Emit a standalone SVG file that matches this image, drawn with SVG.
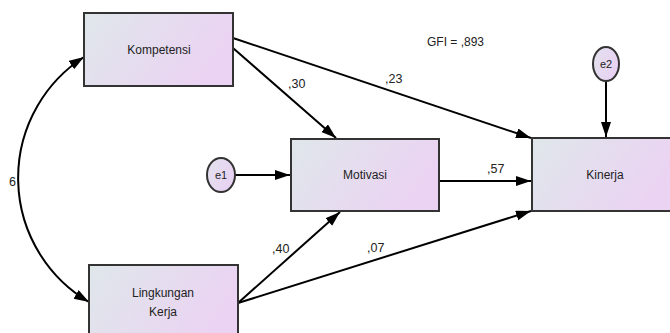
<svg xmlns="http://www.w3.org/2000/svg" width="670" height="333" viewBox="0 0 670 333">
<style>
text{font-family:"Liberation Sans",Arial,sans-serif;fill:#222;}
.box{fill:url(#g);stroke:#333;stroke-width:2;}
.ell{fill:url(#g2);stroke:#333;stroke-width:2;}
.lbl{font-size:12px;text-anchor:middle;}
.num{font-size:12.5px;}
.con{fill:none;stroke:#000;stroke-width:2;}
</style>
<defs>
<linearGradient id="g" x1="0" y1="0" x2="1" y2="0.35">
<stop offset="0" stop-color="#dfe7ea"/>
<stop offset="1" stop-color="#ebd3f3"/>
</linearGradient>
<linearGradient id="g2" x1="0" y1="0" x2="1" y2="0.5">
<stop offset="0" stop-color="#e2e2ee"/>
<stop offset="1" stop-color="#e9d2f3"/>
</linearGradient>
<marker id="ah" markerUnits="userSpaceOnUse" markerWidth="16" markerHeight="12" refX="15" refY="5" orient="auto-start-reverse">
<path d="M0,0 L15,5 L0,10 z" fill="#000"/>
</marker>
</defs>
<g id="connectors">
<path class="con" d="M84,57 A144,144 0 0 0 89,302" marker-start="url(#ah)" marker-end="url(#ah)"/>
<line class="con" x1="233" y1="38" x2="531" y2="138" marker-end="url(#ah)"/>
<line class="con" x1="233" y1="48" x2="336" y2="138" marker-end="url(#ah)"/>
<line class="con" x1="439" y1="181" x2="531" y2="181" marker-end="url(#ah)"/>
<line class="con" x1="238" y1="303" x2="340" y2="212" marker-end="url(#ah)"/>
<line class="con" x1="238" y1="303" x2="531" y2="211" marker-end="url(#ah)"/>
<line class="con" x1="235" y1="175" x2="290" y2="175" marker-end="url(#ah)"/>
<line class="con" x1="606" y1="82" x2="606" y2="137" marker-end="url(#ah)"/>
<text class="num" x="288" y="88">,30</text>
<text class="num" x="385" y="83">,23</text>
<text class="num" x="487" y="173">,57</text>
<text class="num" x="272" y="253">,40</text>
<text class="num" x="367" y="252">,07</text>
<text class="num" x="9" y="186">6</text>
</g>
<g id="kompetensi">
<rect class="box" x="84" y="13" width="149" height="73"/>
<text class="lbl" x="159" y="54">Kompetensi</text>
</g>
<g id="lingkungan">
<rect class="box" x="89" y="265" width="149" height="80"/>
<text class="lbl" x="163" y="297">Lingkungan</text>
<text class="lbl" x="163" y="316">Kerja</text>
</g>
<g id="motivasi">
<rect class="box" x="291" y="139" width="148" height="72"/>
<text class="lbl" x="365" y="179">Motivasi</text>
</g>
<g id="kinerja">
<rect class="box" x="532" y="138" width="145" height="73"/>
<text class="lbl" x="605" y="179">Kinerja</text>
</g>
<g id="e1">
<ellipse class="ell" cx="221" cy="175" rx="14" ry="17"/>
<text class="lbl" x="221" y="179" style="font-size:11px">e1</text>
</g>
<g id="e2">
<ellipse class="ell" cx="606" cy="64" rx="13" ry="17"/>
<text class="lbl" x="606" y="68" style="font-size:11px">e2</text>
</g>
<g id="gfi">
<text x="427" y="46" style="font-size:12px">GFI = ,893</text>
</g>
</svg>
